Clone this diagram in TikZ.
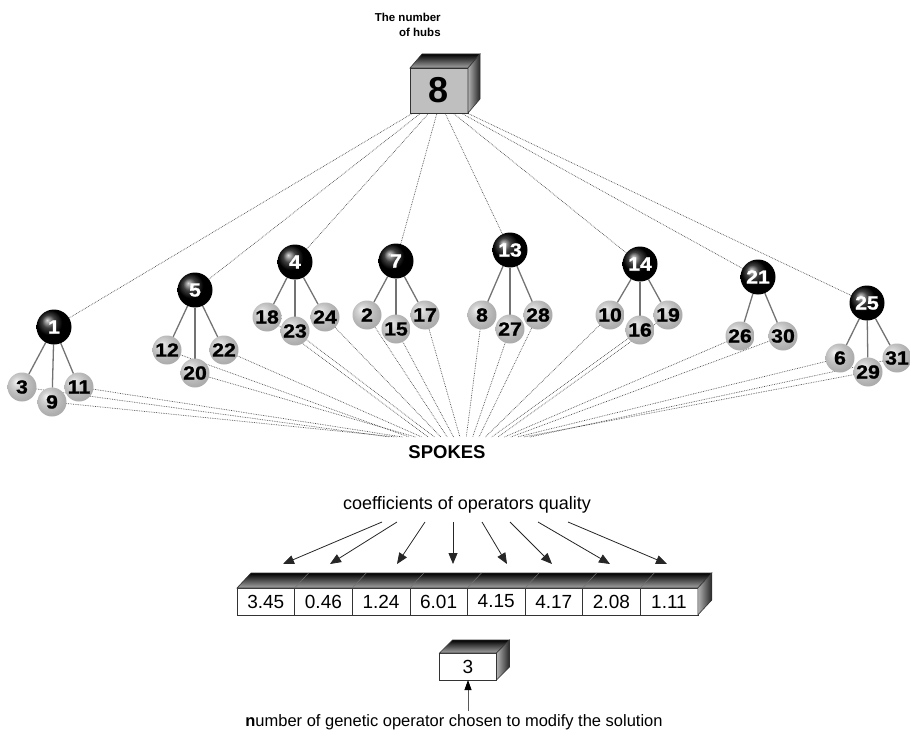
\documentclass[tikz,border=0pt]{standalone}
\usepackage{fontspec}
\setmainfont{Liberation Sans}
\newfontfamily\ballfont[FakeStretch=1.12,FakeBold=1.2]{Liberation Sans}
\usetikzlibrary{arrows.meta,backgrounds}
\pgfdeclareradialshading{lightball}{\pgfpoint{-10bp}{10bp}}{color(0bp)=(gray!8); color(9bp)=(gray!35); color(18bp)=(gray!52); color(25bp)=(gray!62); color(50bp)=(gray!85)}
\begin{document}
\begin{tikzpicture}[x=1pt,y=-1pt,
  every node/.style={outer sep=0pt},
  hub/.style={circle,minimum size=35pt,inner sep=0pt,ball color=black,text=white,font=\ballfont\fontsize{19}{19}\selectfont\bfseries},
  spk/.style={circle,minimum size=29pt,inner sep=0pt,shade,shading=lightball,text=black,font=\ballfont\fontsize{19}{19}\selectfont\bfseries},
  dots/.style={densely dotted,line width=0.7pt,black!70},
  kid/.style={line width=1.3pt,black!55},
  cell/.style={draw=black!80,line width=0.6pt,fill=white,minimum width=57.6pt,minimum height=27pt,inner sep=0pt,font=\fontsize{19}{19}\selectfont},
  topface/.style={draw=black!80,line width=0.6pt,top color=black,bottom color=gray!70},
  sideface/.style={draw=black!80,line width=0.6pt,left color=gray!60,right color=black!85},
  qarrow/.style={line width=0.8pt,black!85,-{Triangle[length=11pt,width=9pt]}},
]
\useasboundingbox (0,0) rectangle (910,733);

% hub count box
\node[draw=black!80,line width=0.6pt,fill=gray!50,minimum width=58pt,minimum height=45pt,inner sep=0pt,font=\fontsize{36}{36}\selectfont\bfseries] (box8) at (439,90.5) {8};
\draw[topface] (box8.north west) -- ++(12,-14) -- ([shift={(12,-14)}]box8.north east) -- (box8.north east) -- cycle;
\draw[sideface] (box8.north east) -- ++(12,-14) -- ([shift={(12,-14)}]box8.south east) -- (box8.south east) -- cycle;
\node[font=\fontsize{11.5}{15}\selectfont\bfseries,align=right,anchor=east] (hubslbl) at (444,25) {The number\\of hubs};

% hubs
\node[hub] (h1) at (54,327) {1};
\node[hub] (h5) at (195,290) {5};
\node[hub] (h4) at (295,262) {4};
\node[hub] (h7) at (396,261) {7};
\node[hub] (h13) at (510,250) {13};
\node[hub] (h14) at (640,264) {14};
\node[hub] (h21) at (758,277) {21};
\node[hub] (h25) at (867,303) {25};

% spokes
\node[spk] (s3) at (22,387) {3};
\node[spk] (s9) at (52,402) {9};
\node[spk] (s11) at (79,387) {11};
\node[spk] (s12) at (167,350) {12};
\node[spk] (s20) at (195,373) {20};
\node[spk] (s22) at (224,350) {22};
\node[spk] (s18) at (267,317) {18};
\node[spk] (s23) at (295,331) {23};
\node[spk] (s24) at (325,317) {24};
\node[spk] (s2) at (367,315) {2};
\node[spk] (s15) at (396,329) {15};
\node[spk] (s17) at (425,315) {17};
\node[spk] (s8) at (482,315) {8};
\node[spk] (s27) at (510,329) {27};
\node[spk] (s28) at (538,315) {28};
\node[spk] (s10) at (610,315) {10};
\node[spk] (s16) at (640,330) {16};
\node[spk] (s19) at (668,315) {19};
\node[spk] (s26) at (740,336) {26};
\node[spk] (s30) at (783,336) {30};
\node[spk] (s6) at (840,358) {6};
\node[spk] (s29) at (868,372) {29};
\node[spk] (s31) at (897,358) {31};

\node[font=\fontsize{18.5}{18.5}\selectfont\bfseries] (spokes) at (447,452) {SPOKES};

\begin{scope}[on background layer]
  \foreach \h/\dx in {1/3,5/11,4/19,7/27,13/35,14/43,21/51,25/57}
    \draw[dots] (h\h) -- ([xshift=\dx]box8.south west);
  \foreach \h/\s in {1/3,1/9,1/11,5/12,5/20,5/22,4/18,4/23,4/24,7/2,7/15,7/17,13/8,13/27,13/28,14/10,14/16,14/19,21/26,21/30,25/6,25/29,25/31}
    \draw[kid] (h\h) -- (s\s);
  \foreach \n [count=\i] in {3,9,11,12,20,22,18,23,24,2,15,17,8,27,28,10,16,19,26,30,6,29,31}{
    \coordinate (sp\i) at ({383.6+6.36*\i},437);
    \draw[dots] (s\n) -- (sp\i);
  }
\end{scope}

% coefficients
\node[font=\fontsize{18}{18}\selectfont] (coef) at (467,505) {coefficients of operators quality};
\foreach \v [count=\i] in {3.45,0.46,1.24,6.01,4.15,4.17,2.08,1.11}
  \node[cell] (c\i) at ({237+57.6*(\i-0.5)},601.5) {\v};
\draw[topface] (c1.north west) -- ++(14,-15) -- ([shift={(14,-15)}]c8.north east) -- (c8.north east) -- cycle;
\foreach \i in {1,...,7}
  \draw[black!55,line width=0.5pt] (c\i.north east) -- ++(14,-15);
\draw[sideface] (c8.north east) -- ++(14,-15) -- ([shift={(14,-15)}]c8.south east) -- (c8.south east) -- cycle;
\foreach \sx/\ex [count=\i] in {382/283,397/330,425/397,453/453,482/507,510/552,538/610,568/667}{
  \coordinate (qa\i) at (\sx,522);
  \coordinate (qb\i) at (\ex,564);
  \draw[qarrow] (qa\i) -- (qb\i);
}

% chosen operator
\node[cell,minimum width=57pt,minimum height=27pt] (b3) at (468,666.5) {3};
\draw[topface] (b3.north west) -- ++(13,-13) -- ([shift={(13,-13)}]b3.north east) -- (b3.north east) -- cycle;
\draw[sideface] (b3.north east) -- ++(13,-13) -- ([shift={(13,-13)}]b3.south east) -- (b3.south east) -- cycle;
\node[font=\fontsize{16.5}{16.5}\selectfont] (gen) at (454,722) {{\bfseries n}umber of genetic operator chosen to modify the solution};
\coordinate (gtail) at (468,711);
\draw[line width=0.8pt,gray!70!black,-{Triangle[length=10pt,width=7pt,color=black]}] (gtail) -- (b3.south);
\end{tikzpicture}
\end{document}
